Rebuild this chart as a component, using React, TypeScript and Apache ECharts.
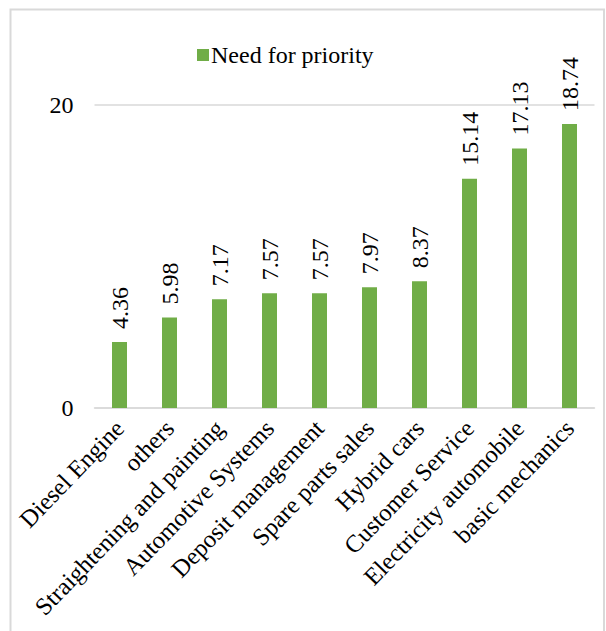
import React, { useEffect, useRef } from "react";
import * as echarts from "echarts";

const categories = [
  "Diesel Engine",
  "others",
  "Straightening and painting",
  "Automotive Systems",
  "Deposit management",
  "Spare parts sales",
  "Hybrid cars",
  "Customer Service",
  "Electricity automobile",
  "basic mechanics",
];
const values = [4.36, 5.98, 7.17, 7.57, 7.57, 7.97, 8.37, 15.14, 17.13, 18.74];
const seriesName = "Need for priority";

const FONT = "'Liberation Serif', 'Times New Roman', serif";

export default function App() {
  const ref = useRef<HTMLDivElement>(null);
  useEffect(() => {
    if (!ref.current) return;
    const chart = echarts.init(ref.current, null, { renderer: "svg" });
    chart.setOption({
      animation: false,
      backgroundColor: "#ffffff",
      textStyle: { fontFamily: FONT, color: "#000" },
      graphic: [
        {
          type: "rect",
          shape: { x: 10.5, y: 9.5, width: 593.5, height: 660 },
          style: { fill: "none", stroke: "#d9d9d9", lineWidth: 2 },
          silent: true,
        },
      ],
      legend: {
        left: 192,
        top: 38,
        itemWidth: 12,
        itemHeight: 12,
        itemGap: 10,
        textStyle: { fontSize: 24, fontFamily: FONT, color: "#000", padding: [0, 0, 0, -3] },
        data: [{ name: seriesName, icon: "rect" }],
      },
      grid: { left: 94.5, right: 11.5, top: 105, bottom: 223, containLabel: false },
      xAxis: {
        type: "category",
        data: categories,
        axisLine: { show: true, lineStyle: { color: "#d9d9d9", width: 1.5 } },
        axisTick: { show: false },
        axisLabel: {
          interval: 0,
          rotate: 46,
          fontSize: 24.5,
          fontFamily: FONT,
          color: "#000",
          margin: 16,
        },
      },
      yAxis: {
        type: "value",
        min: 0,
        max: 20,
        interval: 20,
        axisLine: { show: false },
        axisTick: { show: false },
        splitLine: { lineStyle: { color: "#d9d9d9", width: 1.5 } },
        axisLabel: { fontSize: 24, fontFamily: FONT, color: "#000", margin: 21 },
      },
      series: [
        {
          name: seriesName,
          type: "bar",
          data: values,
          barWidth: 15,
          itemStyle: { color: "#70AD47" },
          label: {
            show: true,
            position: "top",
            rotate: 90,
            align: "left",
            verticalAlign: "middle",
            distance: 13,
            fontSize: 24,
            fontFamily: FONT,
            color: "#000",
            formatter: (p: any) => p.value.toFixed(2),
          },
        },
      ],
    });
    return () => chart.dispose();
  }, []);
  return (
    <div
      ref={ref}
      style={{ position: "fixed", left: 0, top: 0, width: 606, height: 631 }}
    />
  );
}
